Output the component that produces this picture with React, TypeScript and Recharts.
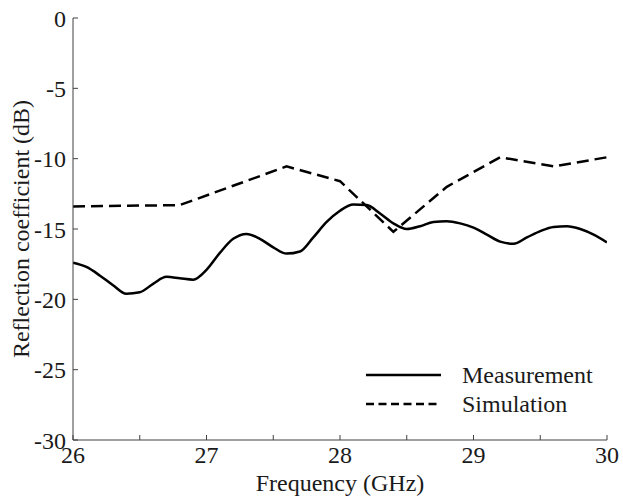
import React from "react";
import { LineChart, Line, XAxis, YAxis, Legend } from "recharts";

// ─── Data ────────────────────────────────────────────────────────────────────
const MEAS_FREQ = [
  26.0, 26.1, 26.2, 26.3, 26.4, 26.5, 26.6, 26.7, 26.8, 26.9, 27.0, 27.1, 27.2, 27.3,
  27.4, 27.5, 27.6, 27.7, 27.8, 27.9, 28.0, 28.1, 28.2, 28.3, 28.4, 28.5, 28.6, 28.7,
  28.8, 28.9, 29.0, 29.1, 29.2, 29.3, 29.4, 29.5, 29.6, 29.7, 29.8, 29.9, 30.0,
];
const MEAS_DB = [
  -17.4, -17.7, -18.3, -19.0, -19.6, -19.5, -18.9, -18.4, -18.5, -18.6, -17.9, -16.7, -15.7, -15.35,
  -15.7, -16.3, -16.75, -16.6, -15.6, -14.5, -13.7, -13.25, -13.3, -13.9, -14.6, -15.0, -14.8, -14.5,
  -14.45, -14.6, -14.9, -15.4, -15.9, -16.05, -15.6, -15.15, -14.85, -14.8, -15.0, -15.4, -15.95,
];

const SIM_FREQ = [26.0, 26.8, 27.6, 28.0, 28.4, 28.8, 29.2, 29.6, 30.0];
const SIM_DB = [-13.4, -13.3, -10.55, -11.6, -15.2, -12.0, -9.9, -10.55, -9.9];

const X_TICKS = [26, 26.5, 27, 27.5, 28, 28.5, 29, 29.5, 30];
const Y_TICKS = [-30, -25, -20, -15, -10, -5, 0];

const measurement = MEAS_FREQ.map((f, i) => ({ f, db: MEAS_DB[i] }));
const simulation = SIM_FREQ.map((f, i) => ({ f, db: SIM_DB[i] }));

const FONT = "Liberation Serif, DejaVu Serif, serif";
const AXIS = "#404040";
const INK = "#1a1a1a";
const FS = 24;
const tickStyle = { fontFamily: FONT, fontSize: FS, fill: INK };

function PlotLegend() {
  const rows = [
    { name: "Measurement", dash: undefined },
    { name: "Simulation", dash: "8 4.5" },
  ];
  return (
    <div style={{ fontFamily: FONT, fontSize: FS, color: INK }}>
      {rows.map((r) => (
        <div key={r.name} style={{ display: "flex", alignItems: "center", height: 29 }}>
          <svg width={75} height={6} style={{ display: "block" }}>
            <line x1={0} y1={3} x2={75} y2={3} stroke="#000" strokeWidth={2.5} strokeDasharray={r.dash} />
          </svg>
          <span style={{ marginLeft: 21, lineHeight: "29px" }}>{r.name}</span>
        </div>
      ))}
    </div>
  );
}

export default function App() {
  return (
    <div style={{ position: "absolute", left: 0, top: 0, width: 623, height: 499, background: "#fff" }}>
      <LineChart width={623} height={499} margin={{ top: 18, right: 16, bottom: 0, left: 0 }}>
        <XAxis
          xAxisId="b"
          type="number"
          dataKey="f"
          domain={[26, 30]}
          ticks={X_TICKS}
          allowDataOverflow
          height={59}
          stroke={AXIS}
          tickSize={-5}
          tickMargin={11}
          tick={tickStyle}
          tickFormatter={(v) => (Number.isInteger(v) ? String(v) : "")}
          label={{ value: "Frequency (GHz)", position: "insideBottom", offset: 8, style: { fontFamily: FONT, fontSize: FS, fill: INK } }}
        />
        <XAxis
          xAxisId="t"
          orientation="top"
          type="number"
          dataKey="f"
          domain={[26, 30]}
          ticks={X_TICKS}
          height={0}
          stroke={AXIS}
          tickSize={-5}
          tickFormatter={() => ""}
        />
        <YAxis
          yAxisId="l"
          type="number"
          domain={[-30, 0]}
          ticks={Y_TICKS}
          allowDataOverflow
          width={73}
          stroke={AXIS}
          tickSize={-5}
          tickMargin={12}
          tick={tickStyle}
          label={{
            value: "Reflection coefficient (dB)",
            angle: -90,
            position: "insideLeft",
            dx: 15,
            style: { fontFamily: FONT, fontSize: FS, fill: INK, textAnchor: "middle" },
          }}
        />
        <YAxis
          yAxisId="r"
          orientation="right"
          type="number"
          domain={[-30, 0]}
          ticks={Y_TICKS}
          width={0}
          stroke={AXIS}
          tickSize={-5}
          tickFormatter={() => ""}
        />
        <Legend
          layout="vertical"
          align="center"
          verticalAlign="middle"
          content={<PlotLegend />}
          wrapperStyle={{ position: "absolute", left: 366, top: 360.5, width: 250, height: 58 }}
        />
        <Line
          xAxisId="b"
          yAxisId="l"
          data={measurement}
          dataKey="db"
          name="Measurement"
          type="monotone"
          stroke="#000"
          strokeWidth={2.5}
          dot={false}
          activeDot={false}
          isAnimationActive={false}
        />
        <Line
          xAxisId="b"
          yAxisId="l"
          data={simulation}
          dataKey="db"
          name="Simulation"
          type="linear"
          stroke="#000"
          strokeWidth={2.5}
          strokeDasharray="12 6"
          dot={false}
          activeDot={false}
          isAnimationActive={false}
        />
      </LineChart>
    </div>
  );
}
